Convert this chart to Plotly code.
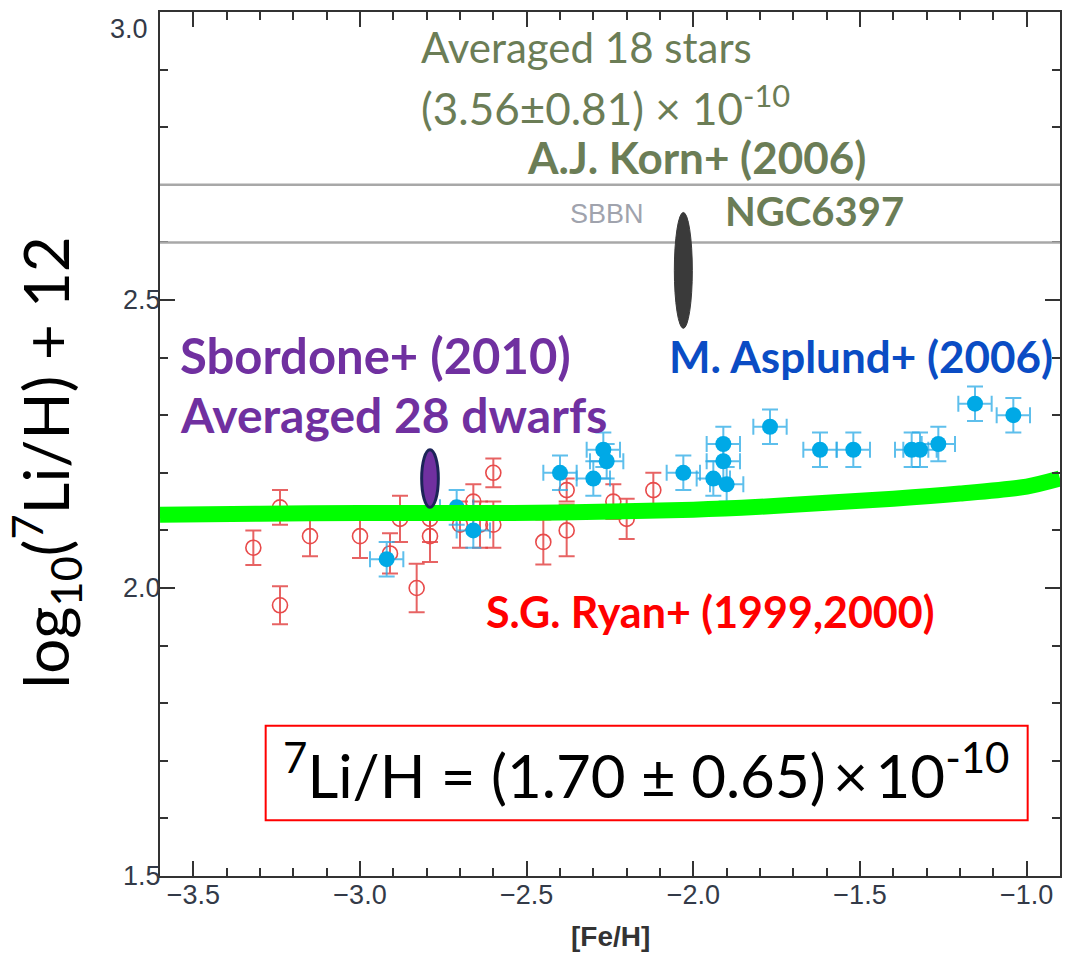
import numpy as np
import plotly.graph_objects as go

# S.G. Ryan et al. (1999, 2000): [Fe/H], A(Li) and its uncertainty
ryan_feh = [-3.32, -3.24, -3.24, -3.15, -3.00, -2.88, -2.91, -2.83, -2.79, -2.79,
            -2.70, -2.66, -2.64, -2.60, -2.60, -2.45, -2.38, -2.38, -2.24, -2.20, -2.12]
ryan_li = [2.07, 2.14, 1.97, 2.09, 2.09, 2.12, 2.06, 2.00, 2.09, 2.12,
           2.11, 2.15, 2.11, 2.11, 2.20, 2.08, 2.10, 2.17, 2.15, 2.12, 2.17]
ryan_err = [0.03, 0.03, 0.033, 0.035, 0.038, 0.04, 0.035, 0.042, 0.045, 0.04,
            0.04, 0.03, 0.04, 0.04, 0.025, 0.039, 0.045, 0.02, 0.03, 0.035, 0.03]

# M. Asplund et al. (2006)
asp_feh = [-2.92, -2.71, -2.66, -2.40, -2.30, -2.27, -2.26, -2.03, -1.94, -1.91,
           -1.91, -1.90, -1.77, -1.62, -1.52, -1.345, -1.32, -1.265, -1.155, -1.04]
asp_li = [2.05, 2.14, 2.10, 2.20, 2.19, 2.24, 2.22, 2.20, 2.19, 2.25,
          2.22, 2.18, 2.28, 2.24, 2.24, 2.24, 2.24, 2.25, 2.32, 2.30]
asp_li_err = [0.03] * len(asp_feh)
asp_feh_err = [0.05] * len(asp_feh)

# Model curve (green band)
model_feh = [-3.6, -3.3, -3.0, -2.7, -2.4, -2.0, -1.8, -1.6, -1.4, -1.2, -1.0, -0.9]
model_li = [2.127, 2.129, 2.130, 2.130, 2.131, 2.136, 2.141, 2.148, 2.155, 2.164, 2.176, 2.190]

# SBBN band limits in A(Li)
sbbn_band = [2.60, 2.70]

# Korn et al. (2006), NGC6397: 7Li/H = (3.56 +/- 0.81) x 10^-10
korn_feh = -2.03
korn_ratio = 3.56
korn_ratio_err = 0.81

# Sbordone et al. (2010), 28 dwarfs
sbordone_feh = -2.79
sbordone_li = 2.19
sbordone_err = 0.05

# Axis ranges
feh_range = [-3.6, -0.9]
li_range = [1.5, 3.0]

OLIVE = "#6b7d56"
PURPLE = "#7030a0"
ASPLUND_BLUE = "#0a4cc4"
TICK_TXT = "#333a48"

fig = go.Figure()

fig.add_trace(go.Scatter(
    x=ryan_feh, y=ryan_li, mode="markers",
    marker=dict(symbol="circle-open", size=15, color="#e84a4a", line=dict(width=1.6)),
    error_y=dict(type="data", array=ryan_err, color="rgba(225,60,60,0.8)",
                 thickness=2, width=8),
    showlegend=False,
))

fig.add_trace(go.Scatter(
    x=asp_feh, y=asp_li, mode="markers",
    marker=dict(symbol="circle", size=16, color="#00a9e6"),
    error_y=dict(type="data", array=asp_li_err, color="rgba(40,170,230,0.75)",
                 thickness=2, width=8),
    error_x=dict(type="data", array=asp_feh_err, color="rgba(40,170,230,0.75)",
                 thickness=2, width=8),
    showlegend=False,
))

fig.add_trace(go.Scatter(
    x=model_feh, y=model_li, mode="lines",
    line=dict(color="#00ff00", width=16, shape="spline", smoothing=0.8),
    showlegend=False,
))

shapes = []
for v in sbbn_band:
    shapes.append(dict(type="line", xref="x domain", yref="y", x0=0, x1=1, y0=v, y1=v,
                       line=dict(color="#a8a8a8", width=2.5)))

# NGC6397 ellipse: centred on log10 of the quoted ratio, height from the quoted error
korn_mid = np.log10(korn_ratio) + 2
korn_half = (np.log10(korn_ratio + korn_ratio_err) - np.log10(korn_ratio - korn_ratio_err)) / 2
shapes.append(dict(type="circle", xref="x", yref="y",
                   x0=korn_feh - 0.027, x1=korn_feh + 0.027,
                   y0=korn_mid - korn_half, y1=korn_mid + korn_half,
                   fillcolor="#3a3a3a", line=dict(color="#3a3a3a", width=1)))

shapes.append(dict(type="circle", xref="x", yref="y",
                   x0=sbordone_feh - 0.025, x1=sbordone_feh + 0.025,
                   y0=sbordone_li - sbordone_err, y1=sbordone_li + sbordone_err,
                   fillcolor=PURPLE, line=dict(color="#1c2458", width=3)))

shapes.append(dict(type="rect", xref="x", yref="y", x0=-3.283, x1=-0.997, y0=1.597, y1=1.761,
                   line=dict(color="#ff0000", width=2), fillcolor="rgba(0,0,0,0)"))

TXT = "Lato"
annotations = [
    dict(x=-2.32, y=2.94, text="Averaged 18 stars",
         font=dict(family=TXT, size=42, color=OLIVE)),
    dict(x=-2.822, y=2.838, xanchor="left",
         text="(3.56\u00b10.81) \u00d7 10<sup>-10</sup>",
         font=dict(family=TXT, size=44, color=OLIVE)),
    dict(x=-1.992, y=2.749, text="<b>A.J. Korn+ (2006)</b>",
         font=dict(family=TXT, size=44, color=OLIVE)),
    dict(x=-2.26, y=2.649, text="SBBN",
         font=dict(family="Liberation Sans", size=27, color="#a0a3ad")),
    dict(x=-1.636, y=2.654, text="<b>NGC6397</b>",
         font=dict(family=TXT, size=40, color=OLIVE)),
    dict(x=-3.547, y=2.405, xanchor="left", text="<b>Sbordone+ (2010)</b>",
         font=dict(family=TXT, size=49, color=PURPLE)),
    dict(x=-3.547, y=2.301, xanchor="left", text="<b>Averaged 28 dwarfs</b>",
         font=dict(family=TXT, size=48, color=PURPLE)),
    dict(x=-2.08, y=2.403, xanchor="left", text="<b>M. Asplund+ (2006)</b>",
         font=dict(family=TXT, size=44, color=ASPLUND_BLUE)),
    dict(x=-2.628, y=1.9586, xanchor="left", text="<b>S.G. Ryan+ (1999,2000)</b>",
         font=dict(family=TXT, size=43, color="#ff0000")),
    dict(x=-2.143, y=1.681,
         text="<sup>7</sup>Li/H = (1.70 \u00b1 0.65)\u2009\u00d7\u200910<sup>-10</sup>",
         font=dict(family=TXT, size=60, color="#000000")),
    dict(xref="paper", yref="paper", x=-0.1275, y=0.479, textangle=-90,
         text="log<sub>10</sub>(<sup>7</sup>Li/H) + 12",
         font=dict(family=TXT, size=62, color="#000000")),
    dict(xref="paper", yref="paper", x=0.5, y=-0.0706, text="<b>[Fe/H]</b>",
         font=dict(family="Liberation Sans", size=28, color="#333333")),
    # top y tick label, set just below the frame so it stays on the page
    dict(xref="paper", yref="paper", x=-0.011, y=1.0, xanchor="right", yanchor="top",
         text=f"{li_range[1]:.1f}",
         font=dict(family="Liberation Sans", size=27, color=TICK_TXT)),
]
for a in annotations:
    a.setdefault("xref", "x")
    a.setdefault("yref", "y")
    a.setdefault("xanchor", "center")
    a.setdefault("yanchor", "middle")
    a["showarrow"] = False

axis_common = dict(
    showline=True, linecolor="#333333", linewidth=2, mirror="allticks",
    ticks="inside", ticklen=15, tickwidth=2, tickcolor="#333333",
    showgrid=False, zeroline=False, tickformat=".1f",
    tickfont=dict(family="Liberation Sans", size=27, color=TICK_TXT),
    minor=dict(ticks="inside", ticklen=8, tickwidth=2, tickcolor="#333333",
               dtick=0.1, showgrid=False),
)

fig.update_layout(
    width=1065, height=956,
    margin=dict(l=160, r=3, t=12, b=80),
    paper_bgcolor="white", plot_bgcolor="white",
    xaxis=dict(range=feh_range, tick0=-3.5, dtick=0.5, ticklabelstandoff=-6,
               **axis_common),
    yaxis=dict(range=li_range, tick0=1.5, dtick=0.5, ticklabelstandoff=-8,
               **axis_common),
    shapes=shapes,
    annotations=annotations,
)

fig.write_html("out.html")
